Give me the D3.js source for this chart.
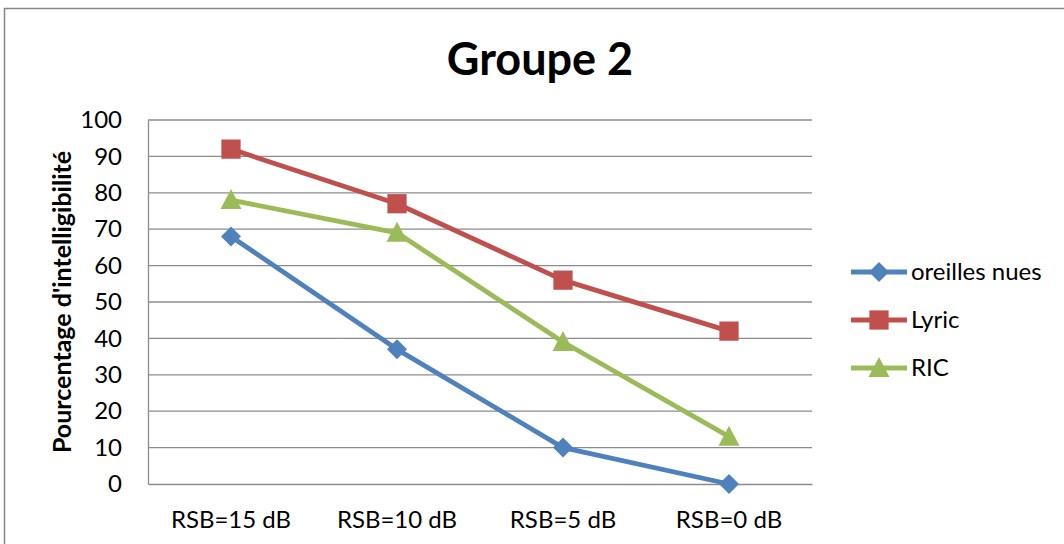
<!DOCTYPE html>
<html>
<head>
<meta charset="utf-8">
<script src="https://cdn.jsdelivr.net/npm/d3@7"></script>
<style>
  html, body { margin: 0; padding: 0; background: #fff; }
  svg { display: block; }
  text { font-family: Lato, "Open Sans", sans-serif; fill: #000; }
</style>
</head>
<body>
<svg id="chart" width="1064" height="544"></svg>
<script>
// Data
const categories = ["RSB=15 dB", "RSB=10 dB", "RSB=5 dB", "RSB=0 dB"];
const seriesNames = ["oreilles nues", "Lyric", "RIC"];
const oreillesNues = [68, 37, 10, 0];
const lyric = [92, 77, 56, 42];
const ric = [78, 69, 39, 13];
const yTicks = [0, 10, 20, 30, 40, 50, 60, 70, 80, 90, 100];

const series = [
  { name: seriesNames[0], values: oreillesNues, color: "#4F81BD", symbol: "diamond" },
  { name: seriesNames[1], values: lyric, color: "#C0504D", symbol: "square" },
  { name: seriesNames[2], values: ric, color: "#9BBB59", symbol: "triangle" }
];

const svg = d3.select("#chart");
const W = 1064, H = 544;
const plot = { left: 148, right: 812, top: 120, bottom: 484 };
const labelSize = "24px";

// Outer chart border
svg.append("rect")
  .attr("x", 4.5).attr("y", 8.5)
  .attr("width", W + 10).attr("height", H + 10)
  .attr("fill", "#fff").attr("stroke", "#868686").attr("stroke-width", 1.5);

const x = d3.scaleBand().domain(categories).range([plot.left, plot.right]);
const y = d3.scaleLinear().domain([0, 100]).range([plot.bottom, plot.top]);

// Horizontal gridlines
svg.append("g").selectAll("line").data(yTicks.filter(t => t > 0)).join("line")
  .attr("x1", plot.left).attr("x2", plot.right)
  .attr("y1", d => y(d)).attr("y2", d => y(d))
  .attr("stroke", "#8c8c8c").attr("stroke-width", 1.3);

// Y axis
const yAxis = svg.append("g").attr("transform", `translate(${plot.left},0)`)
  .call(d3.axisLeft(y).tickValues(yTicks).tickSize(0).tickPadding(26));
yAxis.select(".domain").attr("stroke", "#8c8c8c").attr("stroke-width", 1.3);
yAxis.selectAll("text").style("font-size", labelSize).attr("fill", "#000");

// X axis
const xAxis = svg.append("g").attr("transform", `translate(0,${plot.bottom})`)
  .call(d3.axisBottom(x).tickSize(0).tickPadding(27));
xAxis.select(".domain").attr("stroke", "#8c8c8c").attr("stroke-width", 1.3);
xAxis.selectAll("text").style("font-size", labelSize).attr("fill", "#000");

// Title
svg.append("text")
  .attr("x", 540).attr("y", 75)
  .attr("text-anchor", "middle")
  .style("font-size", "45px").style("font-weight", "bold")
  .text("Groupe 2");

// Y axis title
svg.append("text")
  .attr("transform", "translate(71,302) rotate(-90)")
  .attr("text-anchor", "middle")
  .style("font-size", "25px").style("font-weight", "bold")
  .text("Pourcentage d'intelligibilité");

// Marker shapes
const triangleType = {
  draw(context) {
    context.moveTo(0, -11);
    context.lineTo(10.5, 9);
    context.lineTo(-10.5, 9);
    context.closePath();
  }
};
const symbolPath = s => {
  if (s === "diamond") return d3.symbol().type(d3.symbolSquare).size(200)();
  if (s === "square") return d3.symbol().type(d3.symbolSquare).size(370)();
  return d3.symbol().type(triangleType)();
};
const symbolRotate = s => s === "diamond" ? 45 : 0;

const line = d3.line()
  .x((d, i) => x(categories[i]) + x.bandwidth() / 2)
  .y(d => y(d));

const g = svg.append("g");
series.forEach(s => {
  g.append("path")
    .attr("d", line(s.values))
    .attr("fill", "none").attr("stroke", s.color).attr("stroke-width", 4.8)
    .attr("stroke-linejoin", "round");
  g.selectAll(null).data(s.values).join("path")
    .attr("d", symbolPath(s.symbol))
    .attr("transform", (d, i) =>
      `translate(${x(categories[i]) + x.bandwidth() / 2},${y(d)}) rotate(${symbolRotate(s.symbol)})`)
    .attr("fill", s.color);
});

// Legend
const legend = svg.append("g");
series.forEach((s, i) => {
  const ly = 272 + i * 48;
  legend.append("line")
    .attr("x1", 851).attr("x2", 907).attr("y1", ly).attr("y2", ly)
    .attr("stroke", s.color).attr("stroke-width", 4.8);
  legend.append("path")
    .attr("d", symbolPath(s.symbol))
    .attr("transform", `translate(879,${ly}) rotate(${symbolRotate(s.symbol)})`)
    .attr("fill", s.color);
  legend.append("text")
    .attr("x", 911).attr("y", ly + 8)
    .style("font-size", labelSize)
    .text(s.name);
});
</script>
</body>
</html>
